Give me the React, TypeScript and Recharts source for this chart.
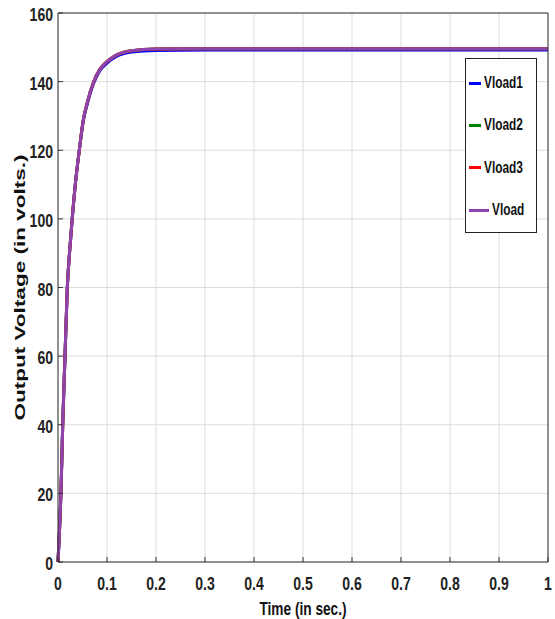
import React from "react";
import { CartesianGrid, Line, LineChart, XAxis, YAxis } from "recharts";

const time = [
  0, 0.003, 0.006, 0.0096, 0.0143, 0.019, 0.024, 0.029, 0.036, 0.0435, 0.0516,
  0.06, 0.073, 0.085, 0.1, 0.12, 0.15, 0.2, 0.3, 0.4, 0.5, 0.6, 0.7, 0.8, 0.9, 1,
];
const vload1 = [
  0, 9, 20, 40, 60, 80, 91, 100, 111, 120, 128.5,
  133.6, 139.6, 143.1, 145.4, 147.4, 148.6, 149.1, 149.2, 149.2, 149.2, 149.2, 149.2, 149.2, 149.2, 149.2,
];
const vload2 = [
  0, 9, 20, 40, 60, 80, 91, 100, 111, 120, 128.8,
  134, 140, 143.5, 145.8, 147.8, 149, 149.5, 149.6, 149.6, 149.6, 149.6, 149.6, 149.6, 149.6, 149.6,
];
const vload3 = vload2;
const vload = [
  0, 9, 20, 40, 60, 80, 91, 100, 111, 120, 128.8,
  134, 140, 143.5, 145.8, 147.8, 149, 149.5, 149.6, 149.6, 149.6, 149.6, 149.6, 149.6, 149.6, 149.6,
];

const xTicks = [0, 0.1, 0.2, 0.3, 0.4, 0.5, 0.6, 0.7, 0.8, 0.9, 1];
const yTicks = [0, 20, 40, 60, 80, 100, 120, 140, 160];

const series = [
  { key: "vload1", name: "Vload1", color: "#0000ff" },
  { key: "vload2", name: "Vload2", color: "#008000" },
  { key: "vload3", name: "Vload3", color: "#ff0000" },
  { key: "vload", name: "Vload", color: "#8e44ad" },
];

const data = time.map((t, i) => ({
  t,
  vload1: vload1[i],
  vload2: vload2[i],
  vload3: vload3[i],
  vload: vload[i],
}));

const font = "'Liberation Sans', Arial, sans-serif";

// narrow look: squeeze the bold sans horizontally
function XTick(props: any) {
  const { x, y, payload } = props;
  return (
    <text
      transform={`translate(${x},${y + 33}) scale(0.78,1)`}
      textAnchor="middle"
      fontFamily={font}
      fontSize={18}
      fontWeight={700}
      fill="#222"
    >
      {String(payload.value)}
    </text>
  );
}

function YTick(props: any) {
  const { x, y, payload } = props;
  return (
    <text
      transform={`translate(${x},${y + 8}) scale(0.78,1)`}
      textAnchor="end"
      fontFamily={font}
      fontSize={18}
      fontWeight={700}
      fill="#222"
    >
      {String(payload.value)}
    </text>
  );
}

function LegendBox() {
  return (
    <div
      style={{
        position: "absolute",
        left: 465,
        top: 58,
        width: 72,
        height: 175,
        border: "1px solid #222",
        background: "#fff",
        boxSizing: "border-box",
        paddingTop: 3,
      }}
    >
      {series.map((s) => (
        <div key={s.key} style={{ position: "relative", height: 42.3, display: "flex", alignItems: "center" }}>
          <div style={{ width: 24, height: 3, background: s.color, marginLeft: 3, marginRight: 3 }} />
          <span
            style={{
              display: "inline-block",
              fontFamily: font,
              fontSize: 16,
              fontWeight: 700,
              color: "#111",
              transform: "scaleX(0.74)",
              transformOrigin: "left center",
              whiteSpace: "nowrap",
            }}
          >
            {s.name}
          </span>
        </div>
      ))}
    </div>
  );
}

export default function App() {
  return (
    <div style={{ position: "absolute", left: 0, top: 0, width: 555, height: 619, background: "#fff" }}>
      <LineChart width={555} height={619} data={data} margin={{ top: 12, right: 6, bottom: 0, left: 0 }}>
        <CartesianGrid stroke="#dcdcdc" strokeWidth={1} />
        <XAxis
          dataKey="t"
          type="number"
          domain={[0, 1]}
          ticks={xTicks}
          interval={0}
          height={57}
          stroke="#333"
          tickSize={-5}
          tickMargin={0}
          tick={<XTick />}
          label={({ viewBox }: any) => (
            <text
              transform={`translate(${viewBox.x + viewBox.width / 2},${615}) scale(0.76,1)`}
              textAnchor="middle"
              fontFamily={font}
              fontSize={18}
              fontWeight={700}
              fill="#111"
            >
              Time (in sec.)
            </text>
          )}
        />
        <XAxis
          xAxisId="top"
          orientation="top"
          dataKey="t"
          type="number"
          domain={[0, 1]}
          ticks={xTicks}
          height={1}
          stroke="#333"
          tickSize={-5}
          tick={false}
        />
        <YAxis
          type="number"
          domain={[0, 160]}
          ticks={yTicks}
          interval={0}
          width={58}
          stroke="#333"
          tickSize={-5}
          tickMargin={10}
          tick={<YTick />}
          label={({ viewBox }: any) => (
            <text
              x={0}
              y={0}
              transform={`translate(25,${viewBox.y + viewBox.height / 2}) rotate(-90)`}
              textAnchor="middle"
              fontFamily={font}
              fontSize={15}
              fontWeight={700}
              fill="#111"
              textLength={266}
              lengthAdjust="spacingAndGlyphs"
            >
              Output Voltage (in volts.)
            </text>
          )}
        />
        <YAxis
          yAxisId="right"
          orientation="right"
          type="number"
          domain={[0, 160]}
          ticks={yTicks}
          width={1}
          stroke="#333"
          tickSize={-5}
          tick={false}
        />
        {series.map((s) => (
          <Line
            key={s.key}
            dataKey={s.key}
            name={s.name}
            type="monotone"
            stroke={s.color}
            strokeWidth={3}
            dot={false}
            isAnimationActive={false}
          />
        ))}
      </LineChart>
      <LegendBox />
    </div>
  );
}
